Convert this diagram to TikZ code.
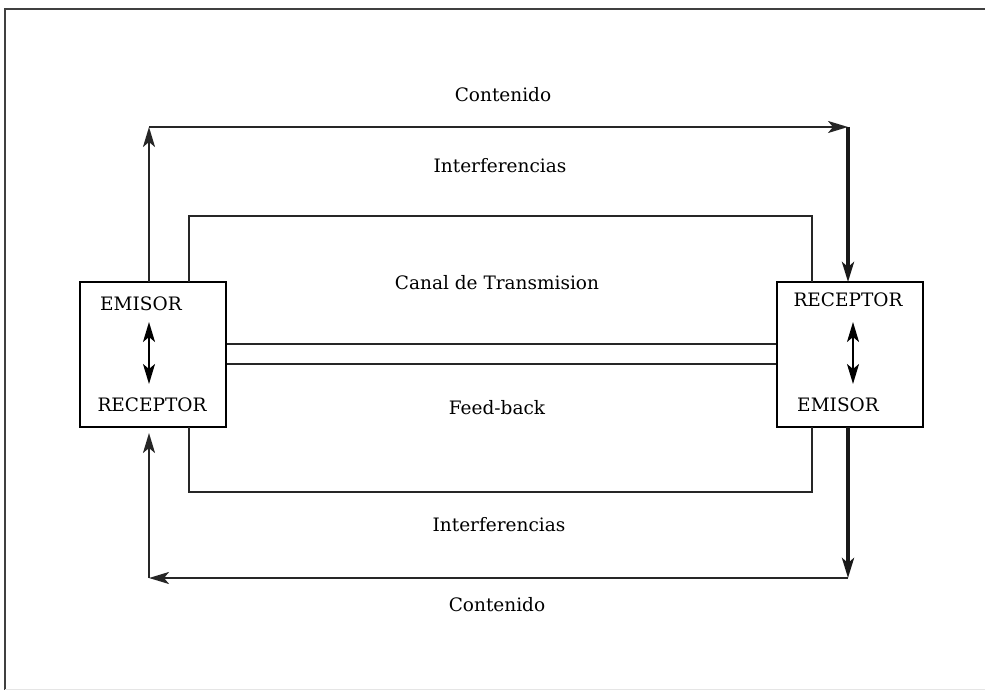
\documentclass[tikz,border=0pt]{standalone}
\usepackage{fontspec}
\setmainfont{DejaVu Serif}
\usetikzlibrary{arrows.meta}
\begin{document}
\begin{tikzpicture}[x=1pt,y=-1pt,
  lbl/.style={font=\fontsize{18.5}{22}\selectfont, inner sep=0pt},
  boxnode/.style={draw, line width=2pt, minimum width=146pt, minimum height=145pt, inner sep=0pt},
  conn/.style={line width=2.2pt, draw=black!85},
  heavy/.style={line width=3.6pt, draw=black!90},
  arr/.tip={Stealth[length=20pt,width=12pt,inset=5pt]},
  tip/.style={-arr},
  dtip/.style={arr-arr, line width=2pt}
]
\useasboundingbox (0,0) rectangle (985,690);
% frame
\draw[line width=1.8pt, black!75] (5,690) -- (5,9) -- (985,9);
\draw[line width=1pt, black!10] (5,689) -- (985,689);

% boxes
\node[boxnode] (lb) at (153,354.5) {};
\node[boxnode] (rb) at (849.5,354.5) {};

% box texts
\node[lbl] (le) at (141,304) {EMISOR};
\node[lbl] (lr) at (152,405) {RECEPTOR};
\node[lbl] (rr) at (848,300) {RECEPTOR};
\node[lbl] (re) at (838,405) {EMISOR};

\coordinate (la1) at (149,322);
\coordinate (la2) at (149,384);
\coordinate (ra1) at (853,322);
\coordinate (ra2) at (853,384);
\draw[dtip] (la1) -- (la2);
\draw[dtip] (ra1) -- (ra2);

% outer loop coordinates
\coordinate (tl) at (149,127);
\coordinate (tr) at (848,127);
\coordinate (bl) at (149,578);
\coordinate (br) at (848,578);
\coordinate (lbt) at (149,282);
\coordinate (lbb) at (149,433);
\coordinate (rbt) at (848,282);
\coordinate (rbb) at (848,427);

\draw[conn, tip] (lbt) -- (tl);
\draw[conn, tip] (tl) -- (tr);
\draw[conn, heavy, tip] (tr) -- (rbt);
\draw[conn, heavy, tip] (rbb) -- (br);
\draw[conn, tip] (br) -- (bl);
\draw[conn, tip] (bl) -- (lbb);

% inner rectangle (channel)
\coordinate (ilt) at (189,282);
\coordinate (ilb) at (189,427);
\coordinate (irt) at (812,282);
\coordinate (irb) at (812,427);
\draw[conn] (ilt) -- (189,216) -- (812,216) -- (irt);
\draw[conn] (ilb) -- (189,492) -- (812,492) -- (irb);

% double line
\draw[conn] (lb.east |- 0,344) -- (rb.west |- 0,344);
\draw[conn] (lb.east |- 0,364) -- (rb.west |- 0,364);

% labels
\node[lbl] (c1) at (503,95) {Contenido};
\node[lbl] (i1) at (500,166) {Interferencias};
\node[lbl] (ct) at (497,283) {Canal de Transmision};
\node[lbl] (fb) at (497,408) {Feed-back};
\node[lbl] (i2) at (499,525) {Interferencias};
\node[lbl] (c2) at (497,605) {Contenido};
\end{tikzpicture}
\end{document}
